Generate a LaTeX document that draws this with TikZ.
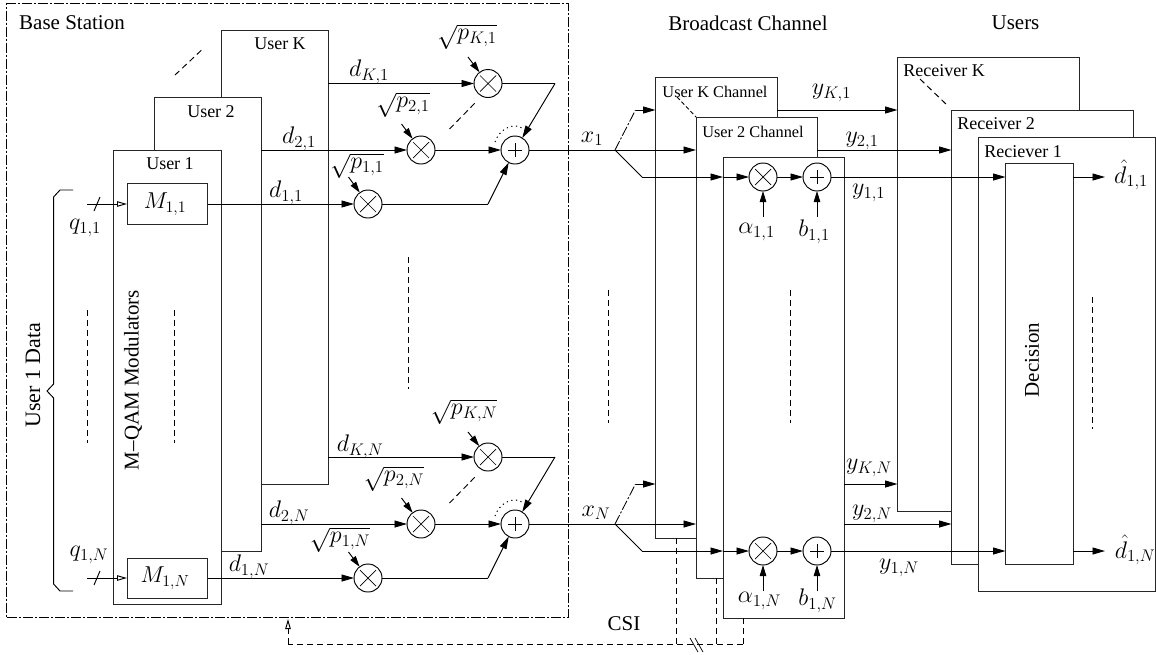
\RequirePackage{fix-cm}
\documentclass[tikz,border=0pt]{standalone}
\usepackage{fontspec}
\setmainfont{Liberation Serif}
\usetikzlibrary{arrows.meta}
\tikzset{
  x=1pt,y=-1pt,
  every node/.style={inner sep=0pt,outer sep=0pt},
  pbox/.style={draw=black!85,fill=white,line width=1pt},
  arr/.style={line width=0.95pt,-{Triangle[length=12.5pt,width=7pt]}},
  sarr/.style={line width=0.95pt,-{Triangle[length=11pt,width=6.5pt]}},
  wire/.style={line width=0.95pt},
  oarr/.style={line width=0.95pt,-{Triangle[open,fill=white,length=10pt,width=5.5pt]}},
  dline/.style={line width=0.95pt,dash pattern=on 6pt off 4pt},
  ddot/.style={line width=0.85pt,dash pattern=on 10pt off 2pt on 2pt off 2pt},
  dotl/.style={line width=1pt,dash pattern=on 1.2pt off 3.5pt},
  big/.style={font=\fontsize{21}{25}\selectfont},
  lab/.style={font=\fontsize{18}{21}\selectfont},
  smlab/.style={font=\fontsize{16.3}{19}\selectfont},
  mlab/.style={font=\fontsize{24}{28}\selectfont},
  mbox/.style={font=\fontsize{23}{27}\selectfont},
  mul/.style={draw,circle,fill=white,line width=0.95pt,minimum size=28pt,
    path picture={\draw[line width=0.7pt] ([shift={(-8pt,-8pt)}]path picture bounding box.center) -- ([shift={(8pt,8pt)}]path picture bounding box.center)
      ([shift={(-8pt,8pt)}]path picture bounding box.center) -- ([shift={(8pt,-8pt)}]path picture bounding box.center);}},
  add/.style={draw,circle,fill=white,line width=0.95pt,minimum size=28pt,
    path picture={\draw[line width=0.7pt] ([shift={(-7pt,0pt)}]path picture bounding box.center) -- ([shift={(7pt,0pt)}]path picture bounding box.center)
      ([shift={(0pt,-7pt)}]path picture bounding box.center) -- ([shift={(0pt,7pt)}]path picture bounding box.center);}},
}
\newcommand{\pxbox}[5]{\node[pbox,anchor=north west,minimum width={#4-#2},minimum height={#5-#3}] (#1) at (#2,#3) {};}
\begin{document}
\begin{tikzpicture}
\useasboundingbox (0,0) rectangle (1156,654);
% base station frame
\node[draw,ddot,anchor=north west,minimum width=561.5,minimum height=614] (bs) at (6.5,3.5) {};
% user stacks
\pxbox{uk}{221}{30}{328}{484}
\pxbox{ut}{154}{97}{261}{551}
\pxbox{uo}{113.5}{150}{221}{604}
\pxbox{ma}{127}{183}{207.5}{224}
\pxbox{mb}{127}{558}{207.5}{598}
% channels
\pxbox{ck}{655.5}{77}{777}{538}
\pxbox{ct}{696}{117}{817}{578}
\pxbox{co}{723}{157}{844}{618}
% receivers
\pxbox{rk}{897.5}{57}{1079}{511}
\pxbox{rt}{951.5}{110}{1133.5}{564}
\pxbox{ro}{978.5}{137}{1155.5}{591}
\pxbox{dec}{1005.5}{163}{1073}{564}
% headings and box labels
\node[big] (hb) at (72,23) {Base Station};
\node[big] (hc) at (748,23) {Broadcast Channel};
\node[big] (hu) at (1015.5,23) {Users};
\node[lab] (l1) at (170,164) {User 1};
\node[lab] (l2) at (211,112) {User 2};
\node[lab] (l3) at (280,44) {User K};
\node[smlab] (l4) at (715,92) {User K Channel};
\node[smlab] (l5) at (753,132) {User 2 Channel};
\node[lab] (l6) at (944,71) {Receiver K};
\node[lab] (l7) at (996,124) {Receiver 2};
\node[lab] (l8) at (1023,152) {Reciever 1};
\node[big,rotate=90] (l9) at (133,380) {M--QAM Modulators};
\node[big,rotate=90,font=\fontsize{22}{26}\selectfont] (l10) at (33,375) {User 1 Data};
\node[big,rotate=90] (l11) at (1032,360) {Decision};
\node[big] (l12) at (624,624) {CSI};
\node[mbox] (tma) at (165,204) {$M_{1,1}$};
\node[mbox] (tmb) at (165,578) {$M_{1,N}$};
% circles, two rows
\foreach \s/\yk/\yt/\yo/\yc/\yd in {a/83.5/150/204/177/110,b/457/524/578/551/484}{
  \node[mul] (mk\s) at (488,\yk) {};
  \node[mul] (mt\s) at (421,\yt) {};
  \node[mul] (mo\s) at (368,\yo) {};
  \node[add] (p\s) at (515,\yt) {};
  \node[mul] (cm\s) at (763,\yc) {};
  \node[add] (cp\s) at (817,\yc) {};
  \coordinate (ck\s) at (555,\yk);
  \coordinate (co\s) at (488,\yo);
  \coordinate (s\s) at (615,\yt);
  \coordinate (up\s) at (635.5,\yd);
  \coordinate (dn\s) at (642,\yc);
  \coordinate (out\s) at (1105,\yc);
  \coordinate (qs\s) at (87,\yo);
  \draw[oarr] (qs\s) -- (m\s.west |- qs\s);
  \draw[arr] (uk.east |- mk\s) -- (mk\s);
  \draw[arr] (ut.east |- mt\s) -- (mt\s);
  \draw[arr] (m\s.east |- mo\s) -- (mo\s);
  \draw[wire] (mk\s) -- (ck\s);
  \draw[arr] (ck\s) -- (p\s);
  \draw[arr] (mt\s) -- (p\s);
  \draw[wire] (mo\s) -- (co\s);
  \draw[arr] (co\s) -- (p\s);
  \draw[wire] (p\s) -- (s\s);
  \draw[ddot] (s\s) -- (up\s);
  \draw[arr] (up\s) -- (up\s -| ck.west);
  \draw[arr] (s\s) -- (s\s -| ct.west);
  \draw[wire] (s\s) -- (dn\s);
  \draw[arr] (dn\s) -- (dn\s -| co.west);
  \draw[arr] (dn\s -| co.west) -- (cm\s);
  \draw[arr] (cm\s) -- (cp\s);
  \draw[arr] (cp\s) -- (cp\s -| dec.west);
  \draw[arr] (dec.east |- cp\s) -- (out\s);
  \coordinate (sl\s a) at (94,\yo+7);
  \coordinate (sl\s b) at (100,\yo-7);
  \draw[wire] (sl\s a) -- (sl\s b);
  \draw[dline] (449.5,\yt-21) -- (475,\yt-47);
  \draw[dotl] (495,\yt-8) .. controls (499,\yt-20) and (512,\yt-28) .. (522,\yt-22);
  \draw[sarr] (cm\s |- 0,\yc+40) -- (cm\s);
  \draw[sarr] (cp\s |- 0,\yc+40) -- (cp\s);
}
% outputs of channels, top row
\draw[arr] (ck.east |- upa) -- (rk.west |- upa);
\draw[arr] (ct.east |- sa) -- (rt.west |- sa);
% outputs of channels, bottom row
\draw[arr] (co.east |- upb) -- (rk.west |- upb);
\draw[arr] (co.east |- sb) -- (rt.west |- sb);
% power inputs
\foreach \t/\sx/\sy in {mka/468/57,mta/401.5/124,moa/348.5/177,mkb/468/432,mtb/401.5/498,mob/348.5/552}{
  \coordinate (f\t) at (\sx,\sy);
  \draw[sarr] (f\t) -- (\t);
}
% math labels
\foreach \n/\px/\py/\txt in {
  a1/467/37/{\sqrt{p_{K,1}}}, a2/403/105/{\sqrt{p_{2,1}}}, a3/357/166/{\sqrt{p_{1,1}}},
  a4/464/412/{\sqrt{p_{K,N}}}, a5/394/479/{\sqrt{p_{2,N}}}, a6/340/540/{\sqrt{p_{1,N}}},
  b1/369/72/{d_{K,1}}, b2/299/139/{d_{2,1}}, b3/286/193/{d_{1,1}},
  b4/360/447/{d_{K,N}}, b5/289/513/{d_{2,N}}, b6/249/567/{d_{1,N}},
  c1/85/228/{q_{1,1}}, c2/89/555/{q_{1,N}},
  e1/592/139/{x_1}, e2/596/513/{x_N},
  g1/831.5/93/{y_{K,1}}, g2/862/141/{y_{2,1}}, g3/868.6/193/{y_{1,1}},
  g4/869/468/{y_{K,N}}, g5/872/514/{y_{2,N}}, g6/899/568/{y_{1,N}},
  h1/756.5/232/{\alpha_{1,1}}, h2/814/232/{b_{1,1}}, h3/759.4/601/{\alpha_{1,N}}, h4/817.5/601/{b_{1,N}},
  k1/1131/175/{\hat d_{1,1}}, k2/1135/550/{\hat d_{1,N}}}{
  \node[mlab] (t\n) at (\px,\py) {$\txt$};
}
% user 1 data brace
\coordinate (bra) at (73,190);
\coordinate (brb) at (73,591);
\coordinate (brt) at (47,391);
\draw[wire] (bra) -- (60,190) -- (53.6,197) -- (53.6,384) -- (brt) -- (53.6,398) -- (53.6,584) -- (60,591) -- (brb);
% dashed continuation marks
\draw[dline] (87,310) -- (87,443);
\draw[dline] (174,310) -- (174,443);
\draw[dline] (408,257) -- (408,389);
\draw[dline] (608,290) -- (608,423);
\draw[dline] (790,290) -- (790,423);
\draw[dline] (1092,297) -- (1092,429);
\draw[dline] (175,75) -- (201.6,50);
\draw[line width=0.9pt,dash pattern=on 4pt off 2.5pt] (677,97) -- (ct.north west);
\draw[dline] (920,79) -- (948,106);
% CSI feedback
\coordinate (fbl) at (288,644);
\coordinate (fbr) at (743,644);
\coordinate (fbt) at (288,619);
\draw[dline] (fbr) -- (fbl);
\draw[oarr] (288,633) -- (fbt);
\draw[dline] (fbl) -- (288,633);
\draw[dline] (co.south -| fbr) -- (fbr);
\draw[dline] (ct.south -| 716,0) -- (716,644);
\draw[dline] (ck.south -| 676,0) -- (676,644);
\draw[line width=0.7pt] (690,638) -- (698,652) (695,638) -- (703,652);
\end{tikzpicture}
\end{document}
